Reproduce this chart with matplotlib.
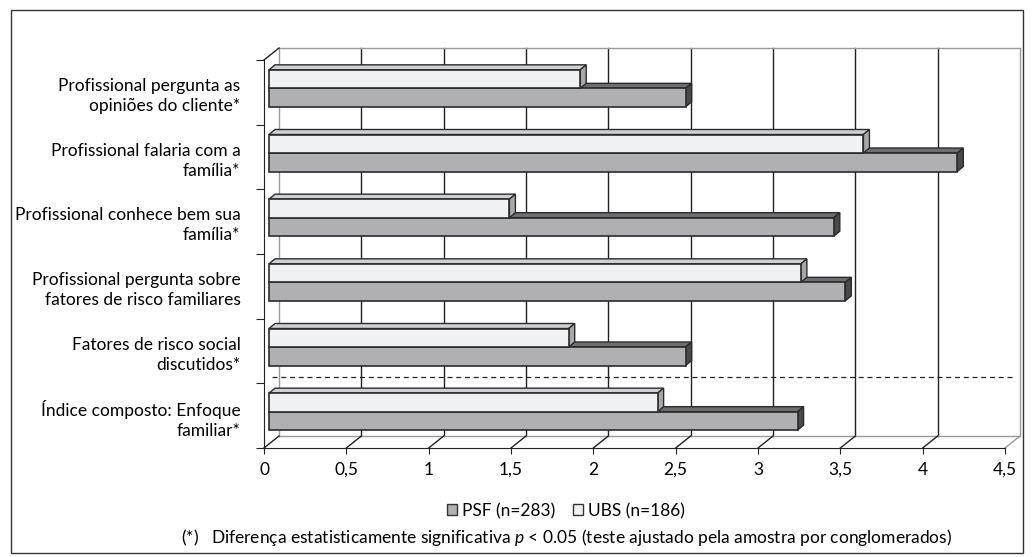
import matplotlib.pyplot as plt
import numpy as np
from matplotlib.patches import Polygon, Rectangle, Patch

plt.rcParams['font.family'] = ['Lato', 'DejaVu Sans']
plt.rcParams['mathtext.fontset'] = 'custom'
plt.rcParams['mathtext.it'] = 'Lato:italic'
plt.rcParams['mathtext.rm'] = 'Lato'

# dados (de cima para baixo)
categorias = [
    'Profissional pergunta as\nopiniões do cliente*',
    'Profissional falaria com a\nfamília*',
    'Profissional conhece bem sua\nfamília*',
    'Profissional pergunta sobre\nfatores de risco familiares',
    'Fatores de risco social\ndiscutidos*',
    'Índice composto: Enfoque\nfamiliar*',
]
ubs = [1.89, 3.61, 1.46, 3.23, 1.82, 2.36]
psf = [2.53, 4.18, 3.43, 3.50, 2.53, 3.21]
xticks = [0, 0.5, 1, 1.5, 2, 2.5, 3, 3.5, 4, 4.5]
xtick_labels = ['0', '0,5', '1', '1,5', '2', '2,5', '3', '3,5', '4', '4,5']

W, H = 1034, 557
fig = plt.figure(figsize=(W / 100, H / 100), dpi=100)
ax = fig.add_axes([264 / W, (H - 448) / H, 741 / W, 388 / H])
ax.set_xlim(0, 4.5)
ax.set_ylim(0, 6)

# escala em pixels -> unidades de dados
px_x = 4.5 / 741
px_y = 6 / 388
DX, DY = 15 * px_x, 12 * px_y          # profundidade da parede de fundo
BX, BY = 5 * px_x, 4 * px_y            # plano das barras
dbx, dby = 6 * px_x, 5 * px_y          # espessura das barras
h = 18.5 * px_y

gray = '#9a9a9a'
kw = dict(clip_on=False)

# parede de fundo / piso
ax.plot([DX, 4.5 + DX], [6 + DY, 6 + DY], color=gray, lw=1, **kw)
ax.plot([DX, 4.5 + DX], [DY, DY], color=gray, lw=1, **kw)
ax.plot([DX, DX], [DY, 6 + DY], color=gray, lw=1, **kw)
ax.plot([4.5 + DX, 4.5 + DX], [DY, 6 + DY], color=gray, lw=1, **kw)
ax.plot([0, DX], [6, 6 + DY], color='#222222', lw=1, **kw)
for x in xticks:
    if 0 < x < 4.5:
        ax.plot([x + DX, x + DX], [DY, 6 + DY], color='#222222', lw=1, zorder=1, **kw)
    c = gray if x == 4.5 else '#222222'
    ax.plot([x, x + DX], [0, DY], color=c, lw=1, **kw)

# linha tracejada separando o índice composto
ax.plot([DX / 2, 4.5 + DX / 2], [1 + DY / 2, 1 + DY / 2], color='#222222',
        lw=0.9, ls=(0, (4, 3)), zorder=2, **kw)

n = len(categorias)
centros = np.arange(n)[::-1] + 0.5
edge = '#2b2b2b'


def barra(y0, v, cor_frente, cor_topo, cor_lado, z):
    x0 = BX
    y1 = y0 + h
    topo = Polygon([(x0, y1), (x0 + v, y1), (x0 + v + dbx, y1 + dby), (x0 + dbx, y1 + dby)],
                   closed=True, fc=cor_topo, ec=edge, lw=1, zorder=z, **kw)
    lado = Polygon([(x0 + v, y0), (x0 + v, y1), (x0 + v + dbx, y1 + dby), (x0 + v + dbx, y0 + dby)],
                   closed=True, fc=cor_lado, ec=edge, lw=1, zorder=z, **kw)
    ax.add_patch(topo)
    ax.add_patch(lado)
    ax.barh(y0, v, left=x0, height=h, align='edge', color=cor_frente,
            edgecolor=edge, lw=1.2, zorder=z + 0.5)


for yc, u, p in zip(centros, ubs, psf):
    base = yc + BY
    barra(base - h, p, '#b0b0b3', '#6e6e70', '#4a4a4c', 3)
    barra(base, u, '#f0f1f3', '#d0d0d2', '#a8a8aa', 4)

# eixos
for s in ['top', 'right']:
    ax.spines[s].set_visible(False)
ax.spines['left'].set_color('#222222')
ax.spines['bottom'].set_color('#222222')
ax.set_xticks(xticks)
ax.set_xticklabels(xtick_labels, fontsize=12.5)
ax.tick_params(axis='x', length=4, pad=6, color='#222222')
ax.set_yticks(np.arange(0, n + 1))
ax.set_yticklabels([])
ax.tick_params(axis='y', which='major', length=6, color='#222222')
ax.set_yticks(centros, minor=True)
ax.set_yticklabels(categorias, minor=True, fontsize=12.5, linespacing=1.33)
ax.tick_params(axis='y', which='minor', length=0, pad=17)

# legenda
handles = [Patch(fc='#b0b0b3', ec='#333333', label='PSF (n=283)'),
           Patch(fc='#f0f1f3', ec='#333333', label='UBS (n=186)')]
fig.legend(handles=handles, loc='center', bbox_to_anchor=(566 / W, 1 - 511 / H),
           ncol=2, frameon=False, fontsize=12.5, handlelength=0.6, handleheight=0.6,
           handletextpad=0.3, columnspacing=1.0)

fig.text(567 / W, 1 - 538 / H,
         r'(*)   Diferença estatisticamente significativa $\mathit{p}$ < 0.05 (teste ajustado pela amostra por conglomerados)',
         ha='center', va='center', fontsize=12.5)

# moldura
fig.patches.append(Rectangle((11 / W, 4 / H), 1012 / W, 543 / H, transform=fig.transFigure,
                             fill=False, ec='#333333', lw=1))

fig.savefig('out.png', dpi=100)
